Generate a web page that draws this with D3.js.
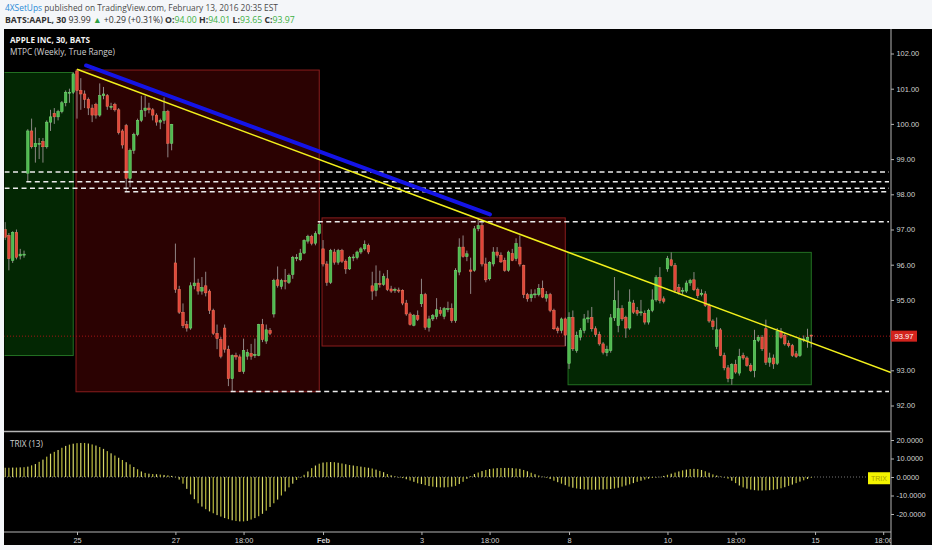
<!DOCTYPE html>
<html>
<head>
<meta charset="utf-8">
<script src="https://cdn.jsdelivr.net/npm/d3@7"></script>
<style>
  html, body { margin: 0; padding: 0; background: #f4f6f9; }
  svg { display: block; }
</style>
</head>
<body>
<svg id="chart" width="932" height="550"></svg>
<script>
// ---- data (30 min bars, BATS:AAPL, Jan 21 - Feb 12 2016) ----
const opens = [
  97.00, 96.83, 96.12, 96.92, 96.25, 96.30,                                                   // Jan 21 (tail)
  98.60, 99.80, 99.35, 99.45, 99.50, 99.35, 100.05, 100.30, 100.20, 100.35, 100.60, 100.90, 100.90,  // Jan 22
  101.50, 100.95, 100.85, 100.70, 100.45, 100.55, 100.25, 100.80, 100.80, 100.50, 100.55, 100.40, 99.80, // Jan 25
  99.95, 98.45, 99.25, 99.70, 100.10, 100.38, 100.45, 100.40, 100.25, 100.05, 100.10, 100.35, 99.45,  // Jan 26
  96.05, 95.30, 94.65, 94.30, 94.20, 95.40, 95.48, 95.25, 95.40, 95.25, 94.70, 94.05, 93.87,   // Jan 27
  94.20, 93.60, 92.76, 93.42, 93.38, 92.97, 93.40, 93.48, 93.42, 93.42, 94.30, 93.83, 94.13,   // Jan 28
  94.60, 95.57, 95.38, 95.55, 95.50, 95.72, 96.20, 96.14, 96.33, 96.67, 96.80, 96.61, 96.88,   // Jan 29
  96.45, 96.02, 95.50, 96.36, 96.07, 96.40, 96.10, 95.88, 96.20, 96.20, 96.36, 96.45, 96.55,   // Feb 1
  95.40, 95.27, 95.46, 95.44, 95.60, 95.31, 95.27, 95.28, 95.27, 94.91, 94.60, 94.28, 94.55,   // Feb 2
  94.89, 95.15, 94.22, 94.46, 94.53, 94.70, 94.53, 94.75, 94.75, 94.41, 95.79, 96.50, 96.23,   // Feb 3
  95.85, 95.84, 97.02, 97.11, 96.02, 95.60, 96.02, 96.36, 96.27, 96.12, 95.84, 96.32, 96.17,   // Feb 4
  96.50, 95.98, 95.15, 95.06, 95.17, 95.15, 95.33, 95.05, 95.15, 94.70, 94.20, 94.13, 94.46,   // Feb 5
  93.20, 94.50, 93.56, 93.94, 94.13, 94.46, 94.50, 94.18, 94.02, 93.75, 93.50, 93.56, 94.49,   // Feb 8
  94.27, 94.75, 94.50, 94.20, 94.91, 94.70, 94.65, 94.62, 94.37, 94.70, 95.00, 95.63, 95.03,   // Feb 9
  95.88, 96.14, 95.98, 95.36, 95.25, 95.25, 95.48, 95.57, 95.29, 95.15, 95.17, 94.84, 94.40,   // Feb 10
  93.68, 94.15, 93.42, 93.07, 92.76, 93.16, 92.92, 93.42, 93.35, 93.14, 92.99, 93.85, 93.94,   // Feb 11
  94.18, 93.23, 93.35, 93.20, 94.11, 93.99, 93.77, 93.70, 93.47, 93.42, 93.87, 93.85, 94.00    // Feb 12
];
const highs = [
  97.21, 96.90, 96.95, 97.00, 96.45, 96.40,
  99.85, 100.15, 99.90, 99.60, 99.60, 100.10, 100.40, 100.45, 100.40, 100.65, 100.95, 101.00, 101.46,
  101.55, 101.30, 100.95, 100.75, 100.55, 100.60, 101.15, 101.05, 100.85, 100.60, 100.60, 100.45, 99.85,
  100.00, 99.30, 99.75, 100.15, 100.80, 100.80, 100.60, 100.45, 100.30, 100.15, 100.75, 100.40, 100.00,
  96.60, 95.40, 94.90, 94.40, 95.50, 96.20, 95.60, 95.65, 95.80, 95.30, 94.75, 94.30, 93.95,
  94.30, 93.70, 93.45, 93.50, 93.45, 93.90, 93.60, 93.75, 93.90, 94.32, 94.46, 94.30, 94.20,
  95.60, 95.95, 95.60, 95.88, 95.75, 96.25, 96.30, 96.45, 96.72, 96.85, 96.85, 96.95, 97.22,
  96.70, 96.10, 96.45, 96.45, 96.45, 96.45, 96.15, 96.25, 96.30, 96.40, 96.50, 96.69, 96.60,
  95.80, 95.98, 95.83, 95.75, 95.85, 95.40, 95.35, 95.35, 95.30, 95.00, 94.65, 94.60, 94.70,
  95.60, 95.20, 94.55, 94.60, 95.05, 94.80, 94.80, 94.95, 94.90, 95.90, 96.75, 96.83, 96.40,
  96.20, 97.10, 97.33, 97.20, 96.20, 96.10, 96.50, 96.50, 96.35, 96.20, 96.40, 96.45, 96.75,
  96.83, 96.00, 95.20, 95.30, 95.30, 95.45, 95.55, 95.25, 95.20, 94.75, 94.25, 94.50, 94.50,
  94.65, 94.70, 94.10, 94.20, 94.60, 94.70, 94.80, 94.25, 94.10, 93.80, 93.70, 94.60, 95.65,
  95.27, 94.85, 94.55, 95.30, 95.00, 94.80, 95.00, 94.70, 94.75, 95.30, 95.70, 95.93, 95.10,
  96.25, 96.35, 96.05, 95.45, 95.35, 95.55, 95.60, 95.79, 95.35, 95.30, 95.25, 94.90, 94.45,
  94.50, 94.20, 93.50, 93.15, 93.20, 93.30, 93.61, 93.50, 93.40, 93.20, 94.15, 94.00, 94.00,
  94.44, 93.50, 93.45, 94.20, 94.20, 94.05, 93.85, 93.75, 93.55, 93.90, 93.99, 94.18, 94.01
];
const lows = [
  96.70, 95.84, 96.05, 96.15, 96.15, 96.20,
  98.37, 99.30, 98.90, 99.00, 98.90, 99.30, 99.80, 100.00, 100.10, 100.30, 100.50, 100.60, 100.85,
  100.15, 100.40, 100.45, 100.25, 100.05, 100.15, 100.20, 100.70, 100.40, 100.40, 100.35, 99.70, 99.30,
  98.07, 98.20, 99.15, 99.65, 100.05, 100.20, 100.30, 100.10, 99.95, 99.85, 100.00, 99.05, 99.25,
  95.20, 94.60, 94.20, 94.10, 94.15, 95.30, 95.15, 95.15, 95.10, 94.60, 94.00, 93.60, 93.34,
  93.50, 92.55, 92.39, 93.30, 92.95, 92.90, 93.30, 93.30, 93.35, 93.40, 93.80, 93.75, 94.00,
  94.50, 95.35, 95.30, 95.30, 95.45, 95.60, 96.10, 96.10, 96.30, 96.60, 96.55, 96.55, 96.85,
  95.95, 95.40, 95.45, 96.00, 96.00, 96.05, 95.74, 95.85, 96.10, 96.15, 96.30, 96.40, 96.30,
  95.00, 95.10, 95.35, 95.40, 95.25, 95.20, 95.20, 95.20, 94.85, 94.55, 94.27, 94.25, 94.40,
  94.80, 94.15, 94.10, 94.40, 94.45, 94.55, 94.45, 94.65, 94.35, 94.35, 95.70, 96.20, 96.10,
  95.17, 95.80, 96.95, 95.95, 95.50, 95.55, 95.95, 96.20, 96.05, 95.80, 95.80, 96.10, 96.10,
  95.95, 95.05, 94.95, 94.95, 95.05, 95.10, 95.05, 94.95, 94.65, 94.15, 94.05, 94.05, 93.69,
  93.04, 93.55, 93.50, 93.85, 94.05, 94.35, 94.10, 93.95, 93.70, 93.45, 93.40, 93.50, 94.40,
  94.08, 94.40, 93.92, 94.15, 94.60, 94.55, 94.55, 94.30, 94.30, 94.65, 94.95, 94.90, 94.90,
  95.80, 95.95, 95.20, 95.15, 95.15, 95.20, 95.40, 95.25, 95.05, 95.10, 94.80, 94.35, 94.15,
  93.60, 93.40, 93.00, 92.66, 92.59, 92.90, 92.85, 93.30, 93.10, 92.95, 92.80, 93.80, 93.55,
  93.15, 93.10, 93.04, 93.15, 93.90, 93.70, 93.65, 93.38, 93.35, 93.38, 93.80, 93.64, 93.65
];
const closes = [
  96.78, 96.17, 96.92, 96.21, 96.30, 96.30,
  99.80, 99.35, 99.45, 99.45, 99.35, 100.05, 100.20, 100.20, 100.35, 100.60, 100.90, 100.90, 101.42,
  100.95, 100.85, 100.70, 100.45, 100.25, 100.25, 100.80, 100.85, 100.50, 100.50, 100.40, 99.75, 99.40,
  98.45, 99.25, 99.70, 100.10, 100.38, 100.45, 100.40, 100.25, 100.05, 100.10, 100.35, 99.45, 99.99,
  95.30, 94.65, 94.27, 94.20, 95.40, 95.48, 95.25, 95.35, 95.20, 94.70, 94.05, 93.90, 93.40,
  93.60, 92.76, 93.42, 93.38, 92.97, 93.56, 93.51, 93.40, 93.45, 94.30, 93.87, 94.15, 94.05,
  95.55, 95.41, 95.55, 95.52, 95.69, 96.21, 96.20, 96.33, 96.69, 96.80, 96.61, 96.88, 97.15,
  96.02, 95.50, 96.40, 96.07, 96.40, 96.10, 95.88, 96.21, 96.22, 96.36, 96.45, 96.57, 96.36,
  95.25, 95.46, 95.44, 95.66, 95.29, 95.25, 95.30, 95.27, 94.91, 94.60, 94.30, 94.55, 94.45,
  95.15, 94.22, 94.46, 94.55, 94.72, 94.61, 94.75, 94.75, 94.41, 95.84, 96.50, 96.23, 96.31,
  95.81, 97.02, 97.11, 96.02, 95.57, 96.07, 96.36, 96.27, 96.08, 95.84, 96.36, 96.12, 96.60,
  96.02, 95.15, 95.03, 95.15, 95.17, 95.33, 95.08, 95.15, 94.70, 94.18, 94.13, 94.46, 94.00,
  94.50, 93.61, 93.99, 94.13, 94.46, 94.49, 94.18, 94.02, 93.75, 93.51, 93.60, 94.49, 94.98,
  94.75, 94.46, 94.20, 94.94, 94.65, 94.62, 94.66, 94.37, 94.70, 95.00, 95.63, 94.98, 94.96,
  96.17, 95.98, 95.27, 95.22, 95.27, 95.48, 95.55, 95.29, 95.12, 95.19, 94.84, 94.40, 94.24,
  94.15, 93.42, 93.07, 92.76, 93.16, 92.95, 93.39, 93.35, 93.14, 92.99, 93.85, 93.94, 93.61,
  93.23, 93.35, 93.18, 94.11, 93.94, 93.75, 93.70, 93.42, 93.39, 93.87, 93.89, 93.94, 93.97
];
// TRIX (13), one value per bar
const trix = [
  5.0, 5.0, 5.1, 5.1, 5.2, 5.3,
  5.6, 6.3, 7.0, 8.2, 9.4, 11.0, 12.6, 13.6, 14.6, 15.8, 16.8, 17.5, 18.0,
  18.3, 18.4, 18.4, 18.1, 17.6, 17.0, 16.2, 15.2, 14.0, 12.8, 11.6, 10.4, 9.2,
  8.0, 6.8, 5.4, 4.2, 3.0, 2.2, 1.8, 1.6, 1.5, 1.3, 1.1, 0.9, 0.6,
  0.1, -1.4, -3.6, -6.4, -9.4, -12.0, -14.2, -16.0, -17.4, -18.6, -19.6, -20.6, -21.4,
  -22.2, -22.8, -23.4, -23.8, -24.0, -24.0, -23.7, -23.0, -22.2, -21.2, -19.9, -18.2, -16.2,
  -14.2, -12.2, -10.0, -7.8, -5.6, -3.6, -1.6, -0.1, 1.2, 3.0, 4.8, 6.2, 7.2,
  7.8, 8.0, 8.1, 8.0, 7.7, 7.3, 6.9, 6.5, 6.2, 5.9, 5.6, 5.3, 5.0,
  4.6, 4.0, 3.3, 2.6, 1.6, 0.9, 0.4, 0.0, -0.6, -1.2, -1.9, -2.6, -3.4,
  -3.8, -4.4, -4.9, -5.2, -5.5, -5.6, -5.6, -5.5, -5.2, -4.8, -3.8, -2.6, -1.0,
  0.4, 1.6, 2.4, 3.2, 3.8, 4.3, 4.6, 4.8, 4.9, 4.9, 4.9, 4.8, 4.6,
  4.4, 3.8, 3.1, 2.3, 1.5, 0.8, 0.2, -0.4, -1.1, -2.0, -2.8, -3.6, -4.4,
  -5.2, -5.8, -6.2, -6.5, -6.7, -6.8, -6.9, -6.9, -6.8, -6.7, -6.6, -6.5, -6.2,
  -5.8, -5.2, -4.6, -4.0, -3.3, -2.6, -2.0, -1.4, -0.9, -0.5, -0.2, 0.1, 0.6,
  1.2, 1.8, 2.4, 3.0, 3.6, 4.0, 4.3, 4.4, 4.3, 3.8, 3.1, 2.3, 1.4,
  0.8, 0.3, -0.2, -0.9, -2.0, -3.3, -4.6, -5.6, -6.3, -6.8, -7.1, -7.3, -7.3,
  -7.2, -7.1, -6.9, -6.6, -6.1, -5.5, -4.8, -4.1, -3.3, -2.5, -1.8, -1.1, -0.4
];

// weekly range boxes (MTPC): first bar, last bar, high, low
const weekStart = [-30, 19, 84, 149];
const weekEnd   = [18, 83, 148, 213];
const weekHigh  = [101.46, 101.53, 97.33, 96.35];
const weekLow   = [93.42, 92.39, 93.69, 92.59];

// dashed levels: price and the bar they start from
const levelPrice = [98.63, 98.36, 98.17, 98.07, 97.22, 92.40];
const levelFrom  = [-2, 6, -2, 32, 83, 60];

// trend lines: [bar, price]
const yellowLine = [[19, 101.55], [213, 93.78]];
const blueLine   = [[21.4, 101.66], [128.1, 97.43]];

const lastPrice = 93.97;

// axes
const timeTicks  = [19, 45, 63, 84, 110, 128, 149, 175, 193, 214, 232];
const timeLabels = ["25", "27", "18:00", "Feb", "3", "18:00", "8", "10", "18:00", "15", "18:00"];
const priceTicks = [102, 101, 100, 99, 98, 97, 96, 95, 93, 92];
const trixTicks  = [20, 10, 0, -10, -20];

// ---- layout ----
const pane = { left: 4, right: 891, top: 29, sep: 431.5, bottom: 532, outer: 545 };
const up = "#4fba4f", upEdge = "#78dd78";
const down = "#e2453a", downEdge = "#f47a5c";

const svg = d3.select("#chart");
const x = d3.scaleLinear().domain([0, 232]).range([5.1, 883.2]);
const step = x(1) - x(0);
const y = d3.scaleLinear().domain([92, 102]).range([405.5, 53.5]);
const yT = d3.scaleLinear().domain([-20, 20]).range([514, 440]);

svg.append("rect").attr("width", 932).attr("height", 550).attr("fill", "#f4f6f9");
svg.append("rect")
    .attr("x", pane.left).attr("y", pane.top)
    .attr("width", 932 - pane.left).attr("height", pane.outer - pane.top)
    .attr("fill", "#000");

const defs = svg.append("defs");
const clip = (id, y0, y1) => defs.append("clipPath").attr("id", id).append("rect")
    .attr("x", pane.left + 0.5).attr("y", y0)
    .attr("width", pane.right - pane.left - 0.5).attr("height", y1 - y0);
clip("clipPrice", pane.top, pane.sep - 0.5);
clip("clipTrix", pane.sep + 0.5, pane.bottom);
clip("clipTime", pane.bottom, pane.outer);

// ---- price pane ----
const price = svg.append("g").attr("clip-path", "url(#clipPrice)");

weekStart.forEach((s, k) => {
    const bull = k % 3 === 0;
    price.append("rect")
        .attr("x", x(s) - 1)
        .attr("y", y(weekHigh[k]))
        .attr("width", x(weekEnd[k]) - x(s) + 1)
        .attr("height", y(weekLow[k]) - y(weekHigh[k]))
        .attr("fill", bull ? "#032703" : "#2b0202")
        .attr("stroke", bull ? "#237023" : "#8a1d1d")
        .attr("stroke-width", 1);
});

// last price dotted line
price.append("line")
    .attr("x1", pane.left).attr("x2", pane.right)
    .attr("y1", y(lastPrice)).attr("y2", y(lastPrice))
    .attr("stroke", "#a41414").attr("stroke-width", 1)
    .attr("stroke-dasharray", "1,2");

const bars = d3.range(closes.length);
const bodyW = step * 0.66;

price.append("g").selectAll("line")
    .data(bars)
    .join("line")
    .attr("x1", i => x(i)).attr("x2", i => x(i))
    .attr("y1", i => y(highs[i])).attr("y2", i => y(lows[i]))
    .attr("stroke", "#9c9494").attr("stroke-width", 0.9);

price.append("g").selectAll("rect")
    .data(bars)
    .join("rect")
    .attr("x", i => x(i) - bodyW / 2)
    .attr("width", bodyW)
    .attr("y", i => y(Math.max(opens[i], closes[i])))
    .attr("height", i => Math.max(1, Math.abs(y(opens[i]) - y(closes[i]))))
    .attr("fill", i => closes[i] >= opens[i] ? up : down)
    .attr("stroke", i => closes[i] >= opens[i] ? upEdge : downEdge)
    .attr("stroke-width", 0.5);

// dashed horizontal levels
price.append("g").selectAll("line")
    .data(levelPrice)
    .join("line")
    .attr("x1", (p, k) => x(levelFrom[k]) - 1.5)
    .attr("x2", pane.right - 2)
    .attr("y1", p => y(p)).attr("y2", p => y(p))
    .attr("stroke", "#ececec").attr("stroke-width", 1.5)
    .attr("stroke-dasharray", "5,3.5");

// trend lines
const iEnd = x.invert(pane.right);
const extend = (pts, toI) => {
    const [[i0, p0], [i1, p1]] = pts;
    return p0 + (p1 - p0) * (toI - i0) / (i1 - i0);
};
price.append("line")
    .attr("x1", x(yellowLine[0][0])).attr("y1", y(yellowLine[0][1]))
    .attr("x2", x(iEnd)).attr("y2", y(extend(yellowLine, iEnd)))
    .attr("stroke", "#f2f01c").attr("stroke-width", 1.6);
price.append("line")
    .attr("x1", x(blueLine[0][0])).attr("y1", y(blueLine[0][1]))
    .attr("x2", x(blueLine[1][0])).attr("y2", y(blueLine[1][1]))
    .attr("stroke", "#1414e6").attr("stroke-width", 4)
    .attr("stroke-linecap", "round");

// ---- TRIX pane ----
const tp = svg.append("g").attr("clip-path", "url(#clipTrix)");
tp.append("line")
    .attr("x1", pane.left).attr("x2", pane.right)
    .attr("y1", yT(0)).attr("y2", yT(0))
    .attr("stroke", "#777").attr("stroke-dasharray", "1,2");
tp.append("g").selectAll("rect")
    .data(bars)
    .join("rect")
    .attr("x", i => x(i) - 0.6)
    .attr("width", 1.2)
    .attr("y", i => Math.min(yT(0), yT(trix[i])))
    .attr("height", i => Math.max(0.5, Math.abs(yT(trix[i]) - yT(0))))
    .attr("fill", (i) => i % 2 ? "#b9b93a" : "#d6d66a");

// ---- frame lines ----
const frame = svg.append("g").attr("stroke", "#b4b4b4").attr("stroke-width", 1);
frame.append("line").attr("x1", pane.right).attr("x2", pane.right)
    .attr("y1", pane.top).attr("y2", pane.outer);
frame.append("line").attr("x1", pane.left).attr("x2", pane.right)
    .attr("y1", pane.sep).attr("y2", pane.sep).attr("stroke-width", 1.5);
frame.append("line").attr("x1", pane.left).attr("x2", pane.right)
    .attr("y1", pane.bottom).attr("y2", pane.bottom);

// ---- axes ----
const axisFont = "'Liberation Sans', Arial, sans-serif";
const styleAxis = g => {
    g.select(".domain").remove();
    g.selectAll(".tick line").attr("stroke", "#b4b4b4");
    g.selectAll(".tick text").attr("fill", "#d2d2d2")
        .attr("font-family", axisFont).attr("font-size", 7.4);
};

svg.append("g")
    .attr("transform", `translate(${pane.right},0)`)
    .call(d3.axisRight(y).tickValues(priceTicks).tickSize(3).tickPadding(2.5)
        .tickFormat(d => d.toFixed(2)))
    .call(styleAxis);

svg.append("g")
    .attr("transform", `translate(${pane.right},0)`)
    .call(d3.axisRight(yT).tickValues(trixTicks).tickSize(3).tickPadding(2.5)
        .tickFormat(d => d.toFixed(4)))
    .call(styleAxis);

svg.append("g")
    .attr("clip-path", "url(#clipTime)")
    .append("g")
    .attr("transform", `translate(0,${pane.bottom})`)
    .call(d3.axisBottom(x).tickValues(timeTicks).tickSize(3).tickPadding(2.5)
        .tickFormat((d, k) => timeLabels[k]))
    .call(styleAxis)
    .call(g => g.selectAll(".tick text")
        .attr("font-weight", (d, k) => timeLabels[k] === "Feb" ? "bold" : null));

// last price tag
svg.append("rect")
    .attr("x", pane.right).attr("y", y(lastPrice) - 5.5)
    .attr("width", 26).attr("height", 11)
    .attr("fill", "#d2231d");
svg.append("text")
    .attr("x", pane.right + 13).attr("y", y(lastPrice))
    .attr("dy", "0.35em").attr("text-anchor", "middle")
    .attr("font-family", axisFont).attr("font-size", 7.6)
    .attr("fill", "#fff").text(lastPrice.toFixed(2));

// TRIX tag
const trixTagY = yT(trix[trix.length - 1]);
svg.append("rect")
    .attr("x", pane.right - 23).attr("y", trixTagY - 5.5)
    .attr("width", 22).attr("height", 12)
    .attr("fill", "#f4f400");
svg.append("text")
    .attr("x", pane.right - 12).attr("y", trixTagY + 0.5)
    .attr("dy", "0.35em").attr("text-anchor", "middle")
    .attr("font-family", axisFont).attr("font-size", 7)
    .attr("fill", "#a8a000").text("TRIX");

// ---- texts ----
const uiFont = "'Open Sans', 'Noto Sans', sans-serif";
const fit = (sel, w) => {
    const len = sel.node().getComputedTextLength();
    sel.attr("font-size", parseFloat(sel.attr("font-size")) * w / len);
};

const h1 = svg.append("text").attr("x", 5).attr("y", 10.5)
    .attr("font-family", uiFont).attr("font-size", 9).attr("fill", "#4a4a4a");
h1.append("tspan").attr("fill", "#2b8ad6").text("4XSetUps");
h1.append("tspan").text(" published on TradingView.com, February 13, 2016 20:35 EST");
fit(h1, 273);

const h2 = svg.append("text").attr("x", 5).attr("y", 22.5)
    .attr("font-family", uiFont).attr("font-size", 9).attr("fill", "#333");
h2.append("tspan").attr("font-weight", "bold").text("BATS:AAPL, 30 ");
h2.append("tspan").text(" 93.99 ");
h2.append("tspan").attr("fill", "#2ea043").text("▲");
h2.append("tspan").text(" +0.29 (+0.31%) ");
[["O:", "94.00"], ["H:", "94.01"], ["L:", "93.65"], ["C:", "93.97"]].forEach(([k, v], j) => {
    h2.append("tspan").attr("font-weight", "bold").text((j ? " " : "") + k);
    h2.append("tspan").attr("fill", "#3cb043").text(v);
});
fit(h2, 290);

const l1 = svg.append("text").attr("x", 10).attr("y", 43)
    .attr("font-family", uiFont).attr("font-size", 9).attr("font-weight", "bold")
    .attr("fill", "#f2f2f2").text("APPLE INC, 30, BATS");
fit(l1, 80);
const l2 = svg.append("text").attr("x", 10).attr("y", 55)
    .attr("font-family", uiFont).attr("font-size", 9)
    .attr("fill", "#cfcfcf").text("MTPC (Weekly, True Range)");
fit(l2, 105);
const l3 = svg.append("text").attr("x", 10).attr("y", 447)
    .attr("font-family", uiFont).attr("font-size", 9)
    .attr("fill", "#cfcfcf").text("TRIX (13)");
fit(l3, 33);
</script>
</body>
</html>
